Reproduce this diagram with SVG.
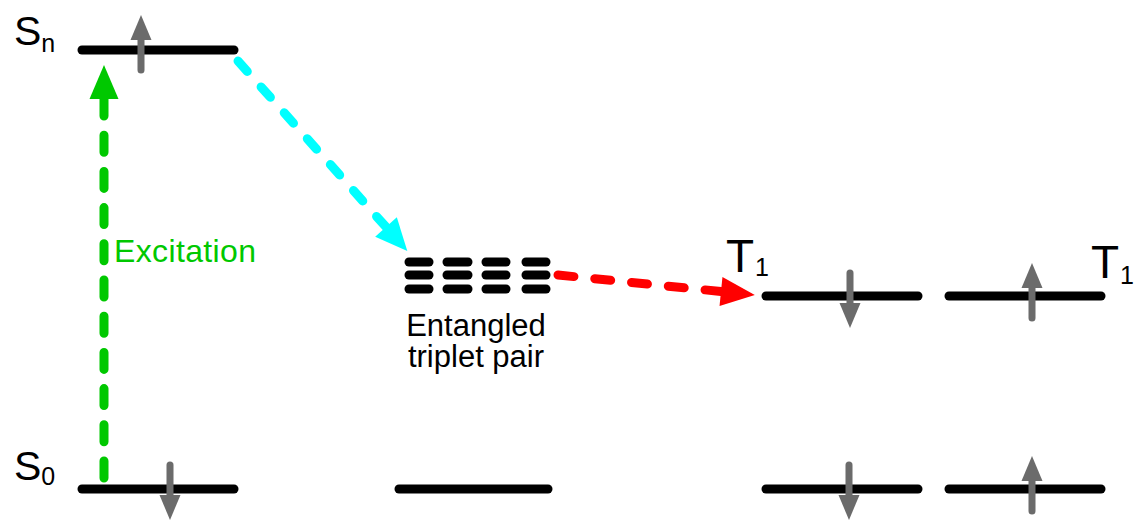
<svg xmlns="http://www.w3.org/2000/svg" xmlns:xlink="http://www.w3.org/1999/xlink" width="1134" height="520" viewBox="0 0 1134 520">
  <style>
    .level { stroke: #000; stroke-width: 9; stroke-linecap: round; fill: none; }
    .tp { stroke: #000; stroke-width: 9; stroke-linecap: round; fill: none; }
    .spin line { stroke: #6b6b6b; stroke-width: 7; stroke-linecap: round; }
    .spin polygon { fill: #6b6b6b; }
    .lbl { font-family: "Liberation Sans", Arial, sans-serif; fill: #000; }
    .conn { fill: none; stroke-width: 9; stroke-linecap: round; }
  </style>
  <defs>
    <g id="spinUp" class="spin">
      <line x1="0" y1="55" x2="0" y2="20"/>
      <polygon points="0,0 -10.5,25 10.5,25"/>
    </g>
    <marker id="hGreen" markerUnits="userSpaceOnUse" markerWidth="36" markerHeight="31" refX="0" refY="14.5" orient="auto" overflow="visible">
      <path d="M0,0 L34,14.5 L0,29 z" fill="#00c800"/>
    </marker>
    <marker id="hCyan" markerUnits="userSpaceOnUse" markerWidth="36" markerHeight="31" refX="0" refY="14.5" orient="auto" overflow="visible">
      <path d="M0,0 L32,14.5 L0,29 z" fill="#00ffff"/>
    </marker>
    <marker id="hRed" markerUnits="userSpaceOnUse" markerWidth="36" markerHeight="31" refX="0" refY="14.5" orient="auto" overflow="visible">
      <path d="M0,0 L34,14.5 L0,29 z" fill="#ff0000"/>
    </marker>
  </defs>

  <g id="connectors">
    <line class="conn" x1="104" y1="478" x2="104" y2="99" stroke="#00c800" stroke-dasharray="17 19.2" marker-end="url(#hGreen)"/>
    <line class="conn" x1="238" y1="61" x2="386" y2="227" stroke="#00ffff" stroke-dasharray="14 20.7" marker-end="url(#hCyan)"/>
    <line class="conn" x1="558" y1="275" x2="721" y2="291.5" stroke="#ff0000" stroke-dasharray="16 20.95" marker-end="url(#hRed)"/>
    <text class="lbl" x="114" y="262" font-size="32" style="fill:#00c800" textLength="142">Excitation</text>
  </g>

  <g id="node-Sn">
    <line class="level" x1="82" y1="50" x2="234" y2="50"/>
    <use xlink:href="#spinUp" transform="translate(141,15)"/>
    <text class="lbl" x="14" y="45" font-size="41">S<tspan font-size="25" dy="7">n</tspan></text>
  </g>

  <g id="node-S0">
    <line class="level" x1="82" y1="489" x2="234" y2="489"/>
    <use xlink:href="#spinUp" transform="translate(170,520) scale(1,-1)"/>
    <text class="lbl" x="14" y="480" font-size="41">S<tspan font-size="25" dy="5">0</tspan></text>
  </g>

  <g id="node-TT">
    <line class="tp" x1="409" y1="262" x2="429" y2="262"/>
    <line class="tp" x1="447" y1="262" x2="468" y2="262"/>
    <line class="tp" x1="486" y1="262" x2="506" y2="262"/>
    <line class="tp" x1="526" y1="262" x2="546" y2="262"/>
    <line class="tp" x1="409" y1="275" x2="429" y2="275"/>
    <line class="tp" x1="447" y1="275" x2="468" y2="275"/>
    <line class="tp" x1="486" y1="275" x2="506" y2="275"/>
    <line class="tp" x1="526" y1="275" x2="546" y2="275"/>
    <line class="tp" x1="409" y1="289" x2="429" y2="289"/>
    <line class="tp" x1="447" y1="289" x2="468" y2="289"/>
    <line class="tp" x1="486" y1="289" x2="506" y2="289"/>
    <line class="tp" x1="526" y1="289" x2="546" y2="289"/>
    <text class="lbl" font-size="31" text-anchor="middle"><tspan x="476" y="336">Entangled</tspan><tspan x="476" y="367">triplet pair</tspan></text>
  </g>

  <g id="node-S0-mid">
    <line class="level" x1="399" y1="489" x2="548" y2="489"/>
  </g>

  <g id="node-T1-left">
    <line class="level" x1="766" y1="296" x2="918" y2="296"/>
    <use xlink:href="#spinUp" transform="translate(850,328) scale(1,-1)"/>
    <text class="lbl" x="726" y="272" font-size="46">T<tspan font-size="25" dx="1" dy="4">1</tspan></text>
  </g>

  <g id="node-T1-right">
    <line class="level" x1="949" y1="296" x2="1101" y2="296"/>
    <use xlink:href="#spinUp" transform="translate(1032,263)"/>
    <text class="lbl" x="1091" y="278" font-size="46">T<tspan font-size="25" dx="1" dy="6">1</tspan></text>
  </g>

  <g id="node-S0-right-a">
    <line class="level" x1="766" y1="489" x2="918" y2="489"/>
    <use xlink:href="#spinUp" transform="translate(849,520) scale(1,-1)"/>
  </g>

  <g id="node-S0-right-b">
    <line class="level" x1="949" y1="489" x2="1101" y2="489"/>
    <use xlink:href="#spinUp" transform="translate(1032,456)"/>
  </g>
</svg>
